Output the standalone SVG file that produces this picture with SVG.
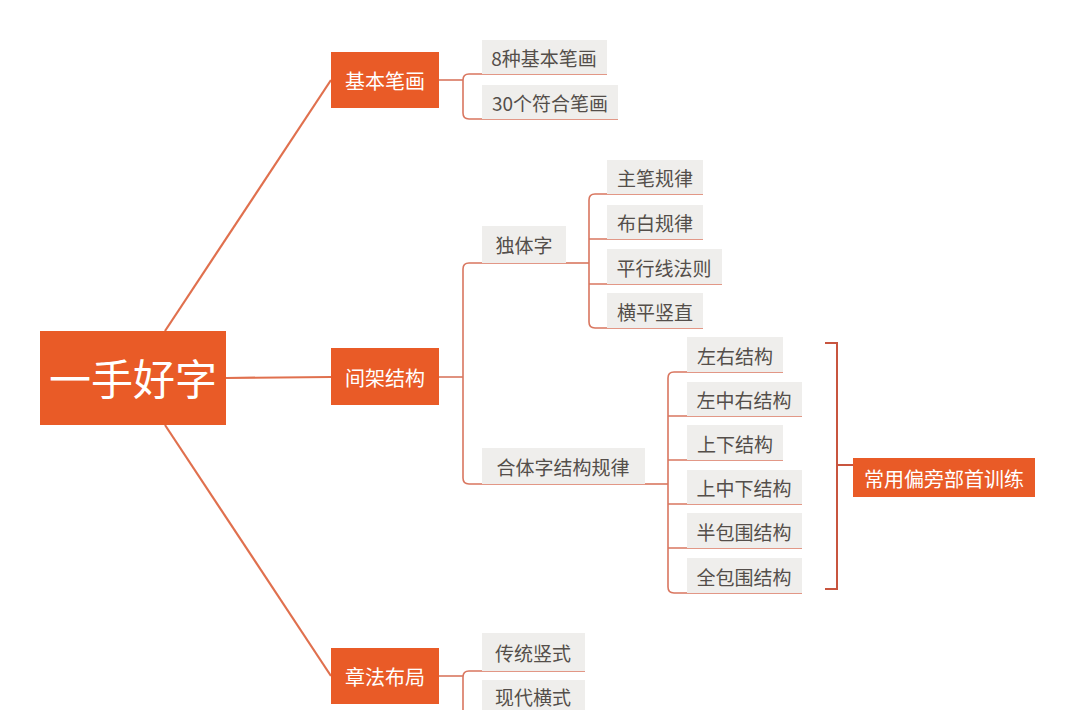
<svg xmlns="http://www.w3.org/2000/svg" width="1080" height="710" viewBox="0 0 1080 710">
<style>
.main{fill:#e95b27}
.mt{fill:#ffffff;font-family:"Noto Sans CJK SC","Noto Sans",sans-serif;font-size:20px;text-anchor:middle}
.rt{fill:#ffffff;font-family:"Noto Sans CJK SC","Noto Sans",sans-serif;font-size:42px;text-anchor:middle}
.sub{fill:#efeeec}
.st{fill:#544e4a;font-family:"Noto Sans CJK SC","Noto Sans",sans-serif;font-size:19px;text-anchor:middle}
.c{fill:none;stroke:#d9765f;stroke-width:1.6}
.cr{fill:none;stroke:#e0704e;stroke-width:2.2}
.br{fill:none;stroke:#c8553f;stroke-width:2}
</style>
<rect width="1080" height="710" fill="#ffffff"/>
<g id="connectors">
<path class="cr" d="M165,331 L331,80"/>
<path class="cr" d="M226,378 L331,377"/>
<path class="cr" d="M165,425 L331,676"/>
<path class="c" d="M439,80 H463"/>
<path class="c" d="M607,74 H469 Q463,74 463,80 V113 Q463,119 469,119 H618"/>
<path class="c" d="M439,377 H463"/>
<path class="c" d="M566,263 H469 Q463,263 463,269 V478 Q463,484 469,484 H645"/>
<path class="c" d="M566,263 H589"/>
<path class="c" d="M703,194 H595 Q589,194 589,200 V322 Q589,328 595,328 H703"/>
<path class="c" d="M589,239 H703"/>
<path class="c" d="M589,284 H722"/>
<path class="c" d="M645,484 H668"/>
<path class="c" d="M783,372 H674 Q668,372 668,378 V587 Q668,593 674,593 H802"/>
<path class="c" d="M668,416 H802"/>
<path class="c" d="M668,460 H783"/>
<path class="c" d="M668,504 H802"/>
<path class="c" d="M668,548 H802"/>
<path class="c" d="M439,676 H463"/>
<path class="c" d="M585,671 H469 Q463,671 463,677 V712"/>
<path class="br" d="M825,343 H837 V589 H825 M837,465 H853"/>
</g>
<g id="root"><rect class="main" x="40" y="331" width="186" height="94"/><text class="rt" x="133" y="395">一手好字</text></g>
<g id="n-jiben"><rect class="main" x="331" y="52" width="108" height="56"/><text class="mt" x="385" y="89">基本笔画</text></g>
<g id="n-jianjia"><rect class="main" x="331" y="348" width="108" height="57"/><text class="mt" x="385" y="386">间架结构</text></g>
<g id="n-zhangfa"><rect class="main" x="331" y="648" width="108" height="56"/><text class="mt" x="385" y="685">章法布局</text></g>
<g id="s1"><rect class="sub" x="482" y="40" width="125" height="34"/><text class="st" x="544" y="66">8种基本笔画</text></g>
<g id="s2"><rect class="sub" x="482" y="85" width="136" height="34"/><text class="st" x="550" y="111">30个符合笔画</text></g>
<g id="s3"><rect class="sub" x="482" y="226" width="84" height="37"/><text class="st" x="524" y="253">独体字</text></g>
<g id="s4"><rect class="sub" x="607" y="160" width="96" height="34"/><text class="st" x="655" y="186">主笔规律</text></g>
<g id="s5"><rect class="sub" x="607" y="205" width="96" height="34"/><text class="st" x="655" y="231">布白规律</text></g>
<g id="s6"><rect class="sub" x="607" y="249" width="115" height="35"/><text class="st" x="664" y="276">平行线法则</text></g>
<g id="s7"><rect class="sub" x="607" y="293" width="96" height="35"/><text class="st" x="655" y="320">横平竖直</text></g>
<g id="s8"><rect class="sub" x="482" y="448" width="163" height="36"/><text class="st" x="563" y="475">合体字结构规律</text></g>
<g id="s9"><rect class="sub" x="687" y="337" width="96" height="35"/><text class="st" x="735" y="364">左右结构</text></g>
<g id="s10"><rect class="sub" x="687" y="382" width="115" height="34"/><text class="st" x="744" y="408">左中右结构</text></g>
<g id="s11"><rect class="sub" x="687" y="425" width="96" height="35"/><text class="st" x="735" y="452">上下结构</text></g>
<g id="s12"><rect class="sub" x="687" y="470" width="115" height="34"/><text class="st" x="744" y="496">上中下结构</text></g>
<g id="s13"><rect class="sub" x="687" y="513" width="115" height="35"/><text class="st" x="744" y="540">半包围结构</text></g>
<g id="s14"><rect class="sub" x="687" y="558" width="115" height="35"/><text class="st" x="744" y="585">全包围结构</text></g>
<g id="n-changyong"><rect class="main" x="853" y="458" width="182" height="39"/><text class="mt" x="944" y="487">常用偏旁部首训练</text></g>
<g id="s15"><rect class="sub" x="482" y="633" width="103" height="38"/><text class="st" x="533" y="661">传统竖式</text></g>
<g id="s16"><rect class="sub" x="482" y="680" width="103" height="34"/><text class="st" x="533" y="705">现代横式</text></g>
</svg>
